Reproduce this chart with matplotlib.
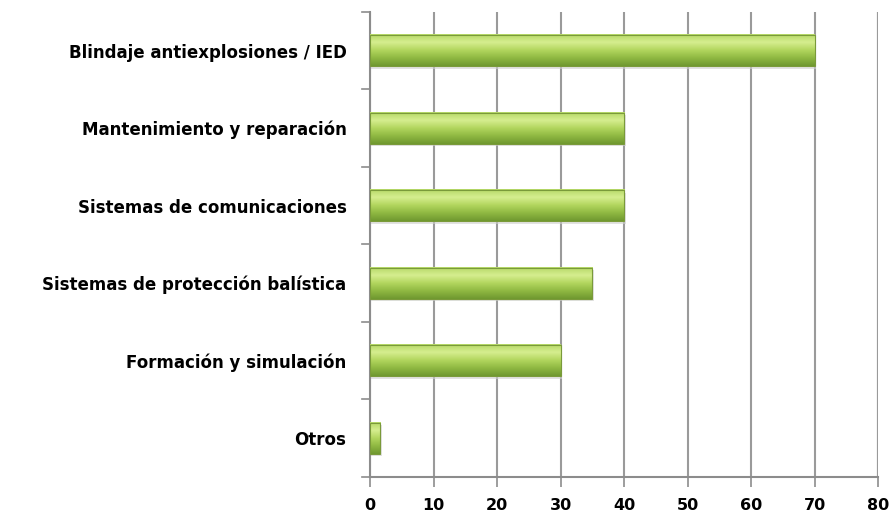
import numpy as np
import matplotlib.pyplot as plt
from matplotlib.colors import LinearSegmentedColormap

categorias = ['Blindaje antiexplosiones / IED',
              'Mantenimiento y reparación',
              'Sistemas de comunicaciones',
              'Sistemas de protección balística',
              'Formación y simulación',
              'Otros']
valores = [70, 40, 40, 35, 30, 1.6]
xticks = [0, 10, 20, 30, 40, 50, 60, 70, 80]

plt.rcParams['font.family'] = ['DejaVu Sans']

fig = plt.figure(figsize=(8.94, 5.19), dpi=100)
ax = fig.add_axes([0.4139, 0.081, 0.5683, 0.896])

n = len(categorias)
ypos = np.arange(n)[::-1]  # first category on top
alto = 0.4

# gradiente verde de las barras
cmap = LinearSegmentedColormap.from_list('verde', ['#6f9830', '#8fb842', '#b2d65e', '#d6ee90', '#b5d866'])
grad = np.linspace(0, 1, 64).reshape(-1, 1)

for y, v in zip(ypos, valores):
    # sombra
    ax.barh(y - 0.035, v + 0.3, height=alto, left=0, color='#d0d0d0', alpha=0.6, zorder=2, linewidth=0)
    ax.imshow(grad, cmap=cmap, aspect='auto', zorder=3,
              extent=(0, v, y - alto / 2, y + alto / 2), origin='lower', interpolation='bicubic')
    ax.barh(y, v, height=alto, left=0, fill=False, edgecolor='#7a9a3a', linewidth=0.8, zorder=4)

ax.set_xlim(0, 80)
ax.set_ylim(-0.5, n - 0.5)
ax.set_xticks(xticks)
ax.set_xticklabels([str(t) for t in xticks], fontsize=11.5, fontweight='bold')
ax.set_yticks(ypos)
ax.set_yticklabels(categorias, fontsize=12, fontweight='bold')
ax.tick_params(axis='y', length=0, pad=17)
ax.tick_params(axis='x', length=7, width=1.2, color='#8c8c8c', pad=8)

# marcas entre categorías
for b in np.arange(n + 1) - 0.5:
    ax.plot([-1.2, 0], [b, b], color='#8c8c8c', lw=1.2, clip_on=False, zorder=1)

ax.grid(axis='x', color='#9a9a9a', linewidth=1.5, zorder=0)
ax.axvline(80, color='#9a9a9a', linewidth=1.5, zorder=0)
ax.set_axisbelow(True)
for s in ['top', 'right']:
    ax.spines[s].set_visible(False)
for s in ['left', 'bottom']:
    ax.spines[s].set_color('#8c8c8c')
    ax.spines[s].set_linewidth(1.5)

plt.savefig('out.png', dpi=100)
